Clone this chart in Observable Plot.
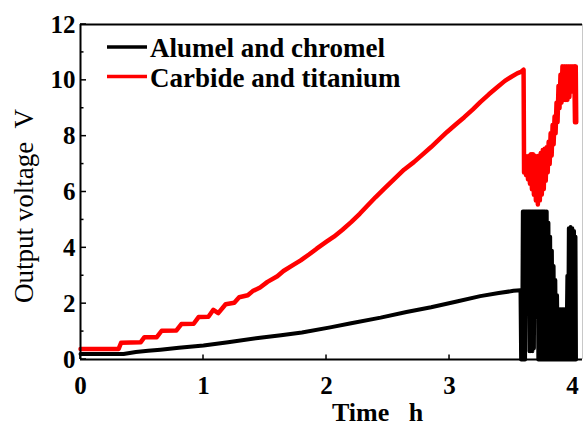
<!DOCTYPE html>
<html>
<head>
<meta charset="utf-8">
<script src="https://cdn.jsdelivr.net/npm/d3@7"></script>
<script src="https://cdn.jsdelivr.net/npm/@observablehq/plot@0.6"></script>
<style>
  html, body { margin: 0; padding: 0; background: #fff; }
  #chart svg { display: block; }
</style>
</head>
<body>
<div id="chart"></div>
<script>
// Thermocouple output voltage over time for two junction pairs.
const seriesNames = ["Alumel and chromel", "Carbide and titanium"];
const seriesColors = ["#000000", "#ff0000"];

// Alumel / chromel: slow rise, then a rapid oscillating burst near the end.
const alumelTime = [
  0, 0.35, 0.45, 0.55, 0.65, 0.8, 1.0, 1.2, 1.46, 1.63, 1.8, 2.03, 2.2, 2.44, 2.65, 2.85, 3.05, 3.25, 3.4, 3.52, 3.577,
  3.582, 3.590, 3.596, 3.602, 3.608, 3.614, 3.620, 3.626, 3.632, 3.638, 3.644, 3.650, 3.656, 3.662, 3.668, 3.674,
  3.680, 3.686, 3.692, 3.698, 3.704, 3.710, 3.716, 3.722, 3.728, 3.734, 3.740, 3.746, 3.752, 3.758, 3.764, 3.770,
  3.776, 3.782, 3.790, 3.796, 3.804, 3.810, 3.818, 3.824, 3.832, 3.838, 3.846, 3.852, 3.860, 3.866, 3.874, 3.880,
  3.888, 3.894, 3.902, 3.908, 3.916, 3.922, 3.930, 3.936, 3.944, 3.950, 3.958, 3.964, 3.970, 3.976, 3.984, 3.990,
  3.998, 4.004, 4.012, 4.018, 4.024, 4.028
];
const alumelVolt = [
  0.2, 0.2, 0.27, 0.31, 0.35, 0.42, 0.5, 0.62, 0.78, 0.87, 0.97, 1.15, 1.3, 1.5, 1.7, 1.87, 2.07, 2.27, 2.38, 2.46, 2.48,
  0.0, 0.0, 5.3, 0.0, 5.3, 0.0, 5.3, 3.8, 5.3, 3.8, 5.3, 0.3, 5.3, 0.3, 5.3, 0.3,
  5.3, 0.4, 5.3, 1.5, 5.3, 1.5, 5.3, 0.0, 5.3, 0.0, 5.3, 0.0, 5.3, 0.0, 5.3, 0.0,
  5.3, 0.0, 5.3, 0.0, 4.9, 0.0, 4.4, 0.0, 3.9, 0.0, 3.35, 0.0, 2.85, 0.0, 2.3, 0.0,
  1.8, 0.0, 1.8, 0.0, 1.8, 0.0, 1.8, 0.0, 1.8, 0.0, 3.0, 0.0, 4.7, 0.0, 4.75, 0.0,
  4.7, 0.0, 4.6, 0.0, 4.4, 0.0
];

// Carbide / titanium: stepped rise to a peak, sharp drop, then a noisy recovery.
const carbideTime = [
  0, 0.31, 0.33, 0.49, 0.52, 0.62, 0.66, 0.78, 0.82, 0.92, 0.96, 1.04, 1.08, 1.12, 1.18, 1.25, 1.29, 1.36, 1.40, 1.46,
  1.52, 1.60, 1.65, 1.72, 1.79, 1.86, 1.92, 2.0, 2.06, 2.13, 2.2, 2.27, 2.33, 2.40, 2.47, 2.55, 2.63, 2.71, 2.78, 2.85,
  2.92, 2.98, 3.05, 3.12, 3.19, 3.25, 3.32, 3.39, 3.45, 3.50, 3.55, 3.58, 3.602,
  3.606, 3.614, 3.622, 3.630, 3.638, 3.646, 3.654, 3.662, 3.670, 3.678, 3.686, 3.694, 3.702, 3.710, 3.718, 3.726,
  3.734, 3.742, 3.750, 3.758, 3.766, 3.774, 3.782, 3.790, 3.798, 3.806, 3.814, 3.822, 3.830, 3.838, 3.846, 3.854,
  3.862, 3.870, 3.878, 3.886, 3.894, 3.902, 3.910, 3.918, 3.926, 3.934, 3.942, 3.950, 3.958, 3.966, 3.974, 3.982,
  3.990, 3.998, 4.006, 4.014, 4.020, 4.026, 4.030
];
const carbideVolt = [
  0.38, 0.38, 0.6, 0.62, 0.8, 0.8, 1.03, 1.04, 1.27, 1.28, 1.52, 1.53, 1.78, 1.66, 1.98, 2.03, 2.23, 2.3, 2.45, 2.58,
  2.78, 2.98, 3.17, 3.36, 3.55, 3.77, 3.97, 4.22, 4.4, 4.65, 4.92, 5.22, 5.5, 5.82, 6.12, 6.46, 6.8, 7.07, 7.34, 7.61,
  7.9, 8.15, 8.42, 8.68, 8.96, 9.22, 9.5, 9.76, 9.98, 10.12, 10.25, 10.3, 10.38,
  6.7, 7.3, 6.6, 7.25, 6.45, 7.3, 6.3, 7.35, 6.1, 7.35, 5.9, 7.3, 5.7, 7.25, 5.55, 7.3,
  5.7, 7.4, 5.9, 7.5, 6.1, 7.55, 6.4, 7.6, 6.7, 7.8, 7.0, 8.1, 7.3, 8.4, 7.7, 8.7,
  8.1, 9.2, 8.5, 9.8, 9.0, 10.2, 9.2, 10.5, 9.3, 10.5, 9.3, 10.5, 9.3, 10.5, 9.4, 10.5,
  9.6, 10.5, 9.7, 10.5, 8.5, 10.5, 8.5
];

const xTicks = [0, 1, 2, 3, 4];
const yMajorTicks = [0, 2, 4, 6, 8, 10, 12];
const yMinorTicks = [1, 3, 5, 7, 9, 11];
const xTitle = "Time\u00a0\u00a0\u00a0h";
const yTitle = "Output voltage\u00a0\u00a0V";

const alumel = alumelTime.map((t, i) => ({t, v: alumelVolt[i]}));
const carbide = carbideTime.map((t, i) => ({t, v: carbideVolt[i]}));

const font = "'Liberation Serif', 'Times New Roman', serif";
const xMax = 4.081;

const chart = Plot.plot({
  width: 584,
  height: 425,
  marginLeft: 80,
  marginRight: 2,
  marginTop: 24,
  marginBottom: 66,
  style: {fontFamily: font, background: "#fff", color: "#000", overflow: "visible"},
  x: {domain: [0, xMax]},
  y: {domain: [0, 12]},
  marks: [
    Plot.ruleX([xMax], {stroke: "#c8c8c8", strokeWidth: 1}),
    Plot.line(alumel, {x: "t", y: "v", stroke: seriesColors[0], strokeWidth: 4, strokeLinejoin: "round"}),
    Plot.line(carbide, {x: "t", y: "v", stroke: seriesColors[1], strokeWidth: 4.5, strokeLinejoin: "round"}),
    Plot.ruleY([12], {stroke: "#000", strokeWidth: 2}),
    Plot.ruleX([0], {stroke: "#000", strokeWidth: 2}),
    Plot.ruleY([0], {stroke: "#000", strokeWidth: 2}),
    Plot.axisY(yMajorTicks, {tickSize: 0, tickPadding: 5, tickFormat: d => String(d), label: null, fontSize: 25, fontWeight: "bold", fill: "#000"}),
    Plot.axisX(xTicks, {tickSize: 0, tickPadding: 17, tickFormat: d => String(d), label: null, fontSize: 25, fontWeight: "bold", fill: "#000"}),
    Plot.text([xTitle], {frameAnchor: "bottom", dx: 46, dy: 61, lineAnchor: "bottom", textAnchor: "middle", fontSize: 26, fontWeight: "bold", fill: "#000"}),
    Plot.text([yTitle], {frameAnchor: "left", dx: -48, dy: 14, rotate: -90, lineAnchor: "bottom", textAnchor: "middle", fontSize: 27, fill: "#000"})
  ]
});

document.getElementById("chart").appendChild(chart);

// Inward tick marks and the legend, placed with the chart's own scales.
const sx = chart.scale("x");
const sy = chart.scale("y");
const svg = d3.select(chart);
const x0 = sx.apply(0);
const y0 = sy.apply(0);
const ticks = svg.append("g").attr("stroke", "#000").attr("stroke-width", 1.5);
yMajorTicks.forEach(v => ticks.append("line")
  .attr("x1", x0).attr("x2", x0 + 6).attr("y1", sy.apply(v)).attr("y2", sy.apply(v)));
yMinorTicks.forEach(v => ticks.append("line")
  .attr("x1", x0).attr("x2", x0 + 3.5).attr("y1", sy.apply(v)).attr("y2", sy.apply(v)));
xTicks.forEach(v => ticks.append("line")
  .attr("x1", sx.apply(v)).attr("x2", sx.apply(v)).attr("y1", y0).attr("y2", y0 - 4.5));

const legend = svg.append("g")
  .attr("font-family", font).attr("font-size", 27).attr("font-weight", "bold")
  .attr("text-anchor", "start");
seriesNames.forEach((name, i) => {
  const row = legend.append("g").attr("transform", `translate(107, ${47 + i * 29.5})`);
  row.append("line").attr("x1", 0).attr("x2", 40).attr("y1", 0).attr("y2", 0)
    .attr("stroke", seriesColors[i]).attr("stroke-width", 3.5);
  row.append("text").attr("x", 43).attr("y", 10).attr("fill", "#000").text(name);
});
</script>
</body>
</html>
